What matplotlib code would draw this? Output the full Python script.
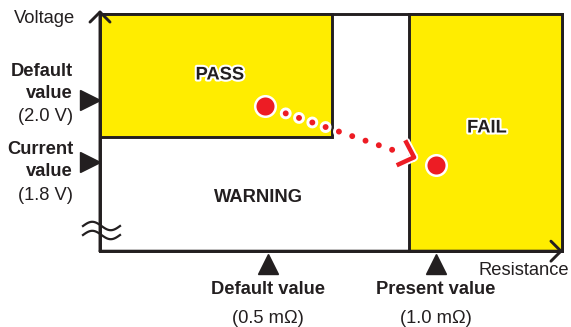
import numpy as np
import matplotlib
matplotlib.use('Agg')
import matplotlib.pyplot as plt
from matplotlib.patches import Rectangle
import matplotlib.patheffects as pe

plt.rcParams['font.family'] = ['Liberation Sans', 'DejaVu Sans']
plt.rcParams['lines.scale_dashes'] = False

# data: resistance (mΩ) on x, voltage (V) on y
res_ticks = [0.5, 1.0]
res_names = ['Default value', 'Present value']
res_values = ['(0.5 mΩ)', '(1.0 mΩ)']
volt_ticks = [2.0, 1.8]
volt_names = [['Default', 'value'], ['Current', 'value']]
volt_values = ['(2.0 V)', '(1.8 V)']

frame_x = [0.0, 1.375]
frame_y = [1.51, 2.28]
pass_x = [0.0, 0.69]
pass_y = [1.88, 2.28]
fail_x = [0.92, 1.375]
fail_y = [1.51, 2.28]

trend_x = [0.49, 1.0]    # default point -> current point
trend_y = [1.98, 1.79]

DARK = '#231f20'
YELLOW = '#ffed00'
RED = '#ed1c24'


def P(px, py):
    # pixel position on the 571x327 canvas -> data coords
    return (px - 100) / 336, 2.0 - (py - 100) / 308.5


fig = plt.figure(figsize=(5.71, 3.27), dpi=100)
ax = fig.add_axes([0, 0, 1, 1])
ax.set_xlim(P(0, 0)[0], P(571, 0)[0])
ax.set_ylim(P(0, 327)[1], P(0, 0)[1])
ax.axis('off')

lw = 2.1
ax.add_patch(Rectangle((frame_x[0], frame_y[0]), frame_x[1] - frame_x[0], frame_y[1] - frame_y[0],
                       facecolor='white', edgecolor=DARK, lw=lw, zorder=1))
ax.add_patch(Rectangle((pass_x[0], pass_y[0]), pass_x[1] - pass_x[0], pass_y[1] - pass_y[0],
                       facecolor=YELLOW, edgecolor=DARK, lw=lw, zorder=2))
ax.add_patch(Rectangle((fail_x[0], fail_y[0]), fail_x[1] - fail_x[0], fail_y[1] - fail_y[0],
                       facecolor=YELLOW, edgecolor=DARK, lw=lw, zorder=2))

# axes arrows
arrow = dict(arrowstyle='->,head_length=0.72,head_width=0.72', lw=lw, color=DARK,
             shrinkA=0, shrinkB=0)
ax.annotate('', xy=(0, P(0, 10)[1]), xytext=(0, frame_y[0]), arrowprops=arrow, zorder=3)
ax.annotate('', xy=(P(563, 0)[0], frame_y[0]), xytext=(0, frame_y[0]), arrowprops=arrow, zorder=3)

# axis break squiggles
sx = np.linspace(83, 120, 60)
for qc in (226, 235):
    sq = qc - 4.2 * np.sin(2 * np.pi * (sx - 83) / 37)
    ax.plot(*P(sx, sq), color=DARK, lw=1.6, zorder=4)

# markers on the axes
for v in volt_ticks:
    ax.plot(P(90, 0)[0], v, marker='>', ms=14, color=DARK, clip_on=False, zorder=3)
for r in res_ticks:
    ax.plot(r, P(0, 264)[1], marker='^', ms=14, color=DARK, clip_on=False, zorder=3)

txt = dict(color=DARK, fontsize=13.2)
# voltage labels
left_rows = [(71, 93, 116), (149, 171, 195)]
for names, val, rows in zip(volt_names, volt_values, left_rows):
    xl = P(73, 0)[0]
    ax.text(xl, P(0, rows[0])[1], names[0], ha='right', va='center', fontweight='bold', **txt)
    ax.text(xl, P(0, rows[1])[1], names[1], ha='right', va='center', fontweight='bold', **txt)
    ax.text(xl, P(0, rows[2])[1], val, ha='right', va='center', **txt)
# resistance labels
for r, name, val in zip(res_ticks, res_names, res_values):
    ax.text(r, P(0, 290)[1], name, ha='center', va='center', fontweight='bold', **txt)
    ax.text(r, P(0, 318)[1], val, ha='center', va='center', **txt)

ax.text(*P(14, 18), 'Voltage', ha='left', va='center', **txt)
ax.text(*P(569, 270), 'Resistance', ha='right', va='center', **txt)

outline = [pe.withStroke(linewidth=3, foreground='white')]
ax.text(*P(220, 75), 'PASS', ha='center', va='center', fontweight='bold',
        path_effects=outline, zorder=5, **txt)
ax.text(*P(487, 128), 'FAIL', ha='center', va='center', fontweight='bold',
        path_effects=outline, zorder=5, **txt)
ax.text(*P(258, 197), 'WARNING', ha='center', va='center', fontweight='bold', zorder=5, **txt)

# trend: dotted path from default point toward current point
tx = np.array(trend_x)
ty = np.array(trend_y)


def along(t):
    return tx[0] + t * (tx[1] - tx[0]), ty[0] + t * (ty[1] - ty[0])


x0, y0 = along(0.123)
x1, y1 = along(0.746)
ax.plot([x0, x1], [y0, y1], color='white', lw=8.6, dashes=(0.01, 10.11),
        dash_capstyle='round', zorder=6)
ax.plot([x0, x1], [y0, y1], color=RED, lw=4.3, dashes=(0.01, 10.11),
        dash_capstyle='round', zorder=7)

ax.annotate('', xy=along(0.89), xytext=along(0.885),
            arrowprops=dict(arrowstyle='->,head_length=1.0,head_width=0.95', lw=3.2,
                            color=RED, shrinkA=0, shrinkB=0, capstyle='butt',
                            path_effects=[pe.withStroke(linewidth=6, foreground='white')]),
            zorder=8)

ax.plot(tx, ty, linestyle='none', marker='o', ms=14.8, mfc=RED, mec='white', mew=1.8, zorder=9)

fig.savefig('out.png', dpi=100)
